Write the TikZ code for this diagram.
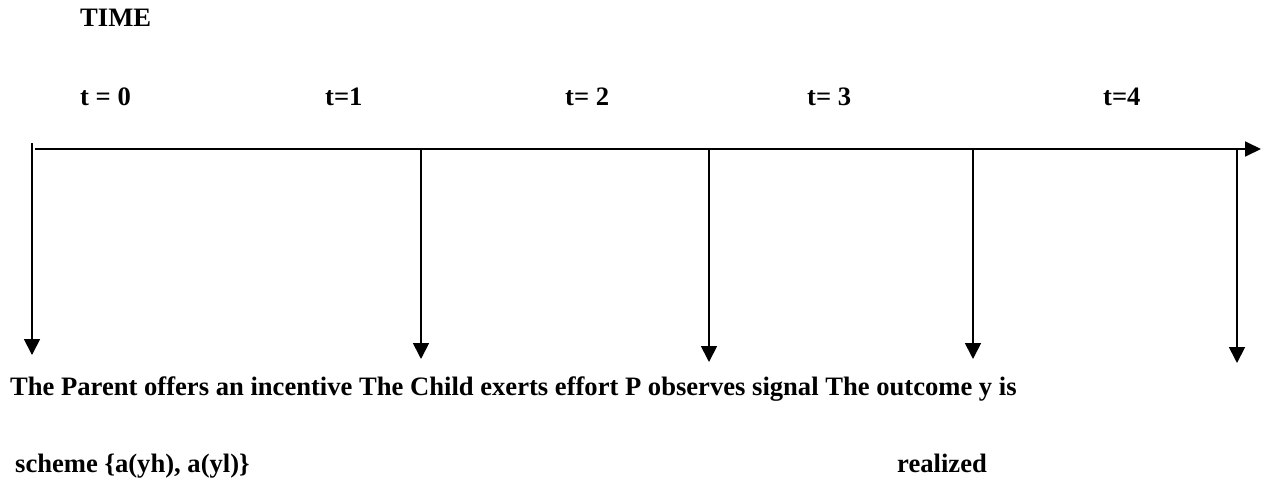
\documentclass[tikz,border=0pt]{standalone}
\usepackage{fontspec}
\setmainfont{Liberation Serif}
\usetikzlibrary{arrows.meta}
\begin{document}
\begin{tikzpicture}[x=1pt,y=-1pt,
  lbl/.style={anchor=base west,inner sep=0pt,font=\fontsize{26.6}{30}\selectfont\bfseries},
  axis/.style={line width=1.8pt,-{Triangle[width=15pt,length=16pt]}},
  drop/.style={line width=1.8pt,-{Triangle[width=16pt,length=16pt]}}]
\useasboundingbox[fill=white] (0,0) rectangle (1269,482);
% labels
\node[lbl] (time) at (80,26) {TIME};
\node[lbl] (t0) at (80,105) {t = 0};
\node[lbl] (t1) at (325,105) {t=1};
\node[lbl] (t2) at (565,105) {t= 2};
\node[lbl] (t3) at (807,105) {t= 3};
\node[lbl] (t4) at (1103,105) {t=4};
% timeline
\coordinate (start) at (35,149);
\coordinate (tip) at (1261,149);
\draw[axis] (start) -- (tip);
% drop points
\coordinate (a0) at (32,143);
\coordinate (a1) at (421,149);
\coordinate (a2) at (709,149);
\coordinate (a3) at (973,149);
\coordinate (a4) at (1237,149);
\coordinate (b0) at (32,355);
\coordinate (b1) at (421,359);
\coordinate (b2) at (709,362);
\coordinate (b3) at (973,359);
\coordinate (b4) at (1237,363);
\foreach \i in {0,...,4} {\draw[drop] (a\i) -- (b\i);}
% bottom text
\node[lbl] (line1) at (10,395) {The Parent offers an incentive The Child exerts effort P observes signal The outcome y is};
\node[lbl] (scheme) at (15,472) {scheme \{a(yh), a(yl)\}};
\node[lbl] (realized) at (897,472) {realized};
\end{tikzpicture}
\end{document}
